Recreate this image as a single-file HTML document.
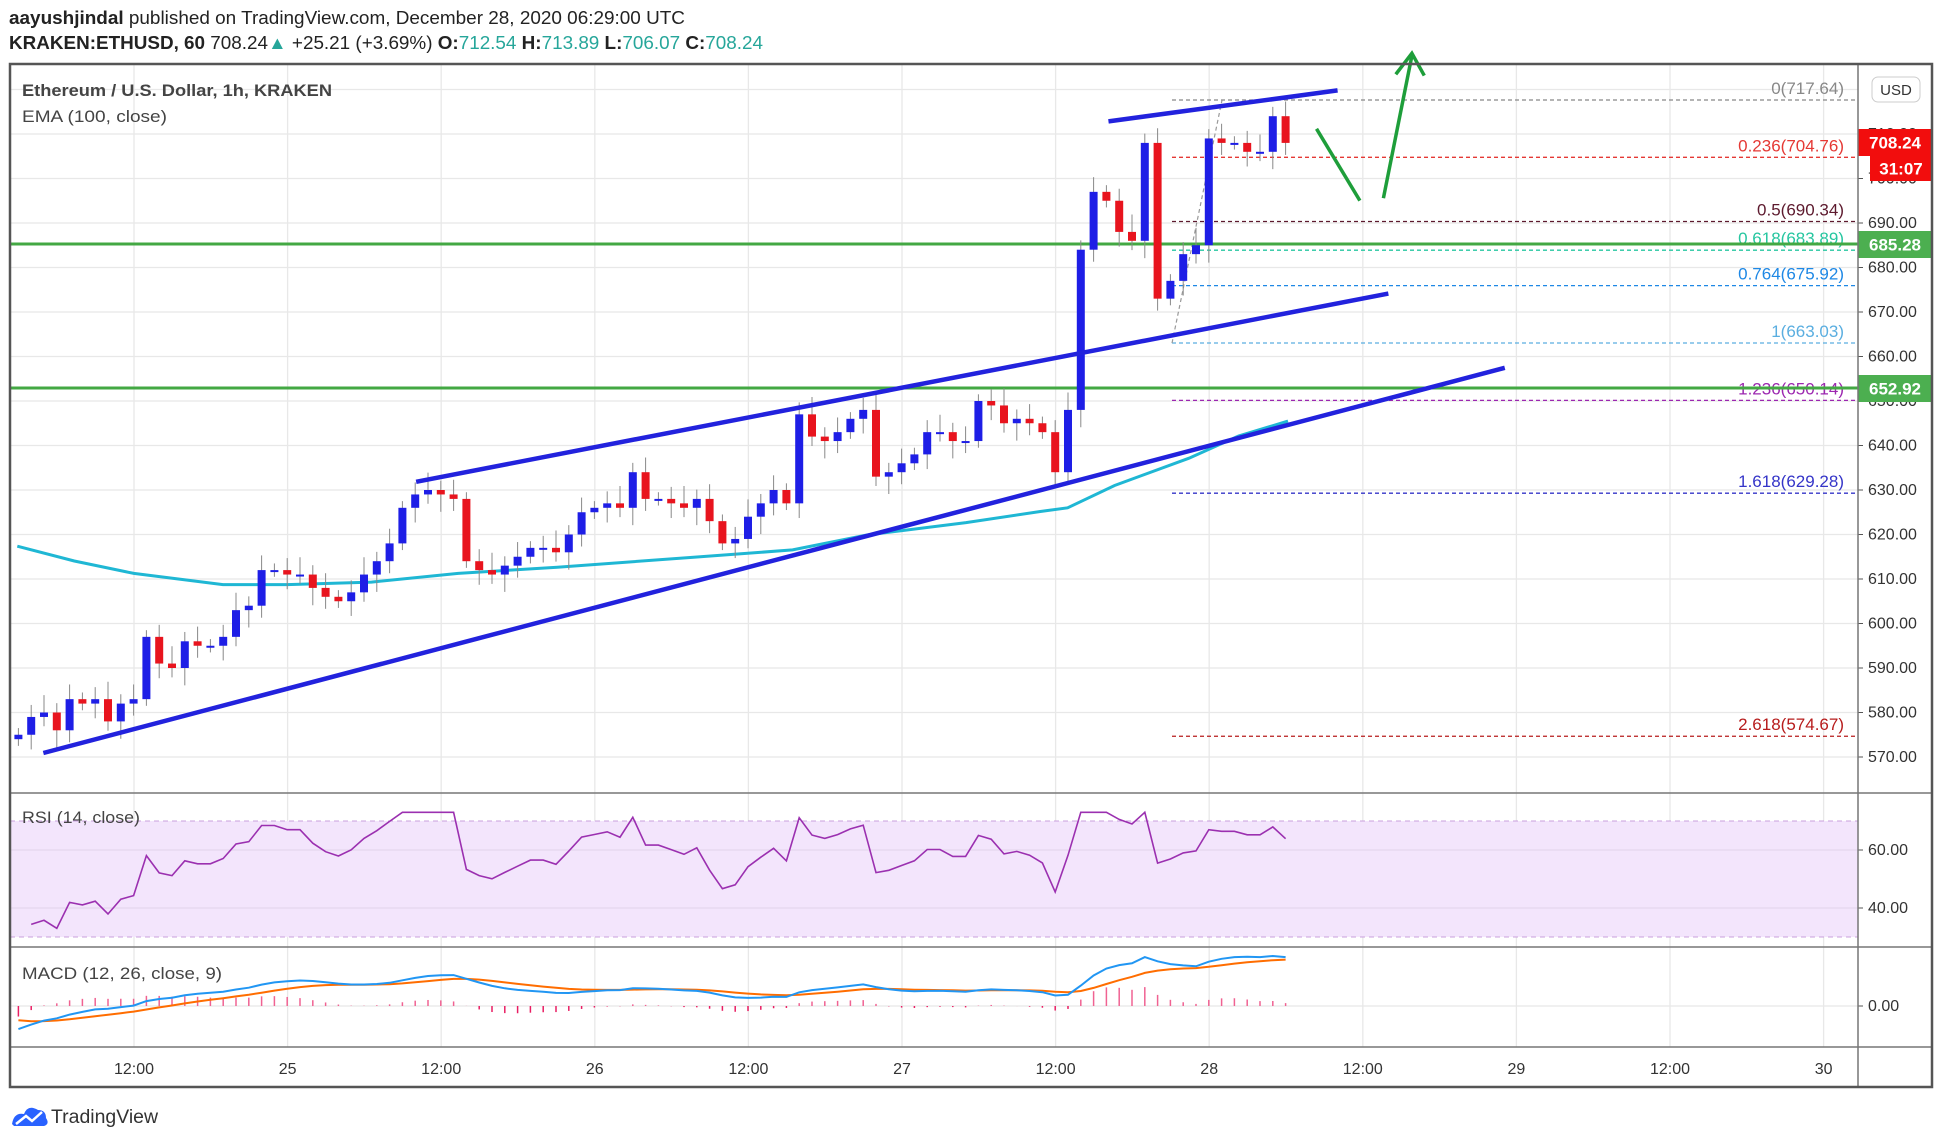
<!DOCTYPE html>
<html><head><meta charset="utf-8">
<style>
html,body{margin:0;padding:0;background:#fff;}
svg{display:block;font-family:"Liberation Sans Narrow","Liberation Sans",sans-serif;}
</style></head>
<body>
<svg id="s" width="1942" height="1143" viewBox="0 0 1942 1143" xmlns="http://www.w3.org/2000/svg">
<rect width="1942" height="1143" fill="#fff"/>
<g id="grid"></g>
<g id="content"></g>
<text x="9" y="24" font-size="18" fill="#222" textLength="676" lengthAdjust="spacingAndGlyphs"><tspan font-weight="bold">aayushjindal</tspan> published on TradingView.com, December 28, 2020 06:29:00 UTC</text>
<text x="9" y="49" font-size="18" fill="#222" textLength="754" lengthAdjust="spacingAndGlyphs"><tspan font-weight="bold">KRAKEN:ETHUSD, 60</tspan> 708.24<tspan fill="#26a69a">▲</tspan> +25.21 (+3.69%) <tspan font-weight="bold">O:</tspan><tspan fill="#26a69a">712.54</tspan> <tspan font-weight="bold">H:</tspan><tspan fill="#26a69a">713.89</tspan> <tspan font-weight="bold">L:</tspan><tspan fill="#26a69a">706.07</tspan> <tspan font-weight="bold">C:</tspan><tspan fill="#26a69a">708.24</tspan></text>
<text x="22" y="96" font-size="17" font-weight="bold" fill="#444" textLength="310" lengthAdjust="spacingAndGlyphs">Ethereum / U.S. Dollar, 1h, KRAKEN</text>
<text x="22" y="122" font-size="17" fill="#444" textLength="145" lengthAdjust="spacingAndGlyphs">EMA (100, close)</text>
<text x="22" y="823" font-size="17" fill="#444" textLength="118" lengthAdjust="spacingAndGlyphs">RSI (14, close)</text>
<text x="22" y="979" font-size="17" fill="#444" textLength="200" lengthAdjust="spacingAndGlyphs">MACD (12, 26, close, 9)</text>
<g transform="translate(12,1104)">
<path d="M0 20 Q2 8 12 10 Q16 0 26 6 Q34 6 34 14 Q38 20 32 22 L2 22 Z" fill="#2962ff"/>
<path d="M4 20 L14 12 L20 17 L30 8" stroke="#fff" stroke-width="2.5" fill="none"/>
</g>
<text x="51" y="1123" font-size="19" fill="#333" textLength="107" lengthAdjust="spacingAndGlyphs">TradingView</text>
</svg>
<script>
const NS="http://www.w3.org/2000/svg";
const C=document.getElementById('content'),G=document.getElementById('grid');
function el(p,tag,a,txt){const e=document.createElementNS(NS,tag);for(const k in a)e.setAttribute(k,a[k]);if(txt!==undefined)e.textContent=txt;p.appendChild(e);return e;}
const L=10,R=1858,RR=1932,T=64,B1=793,B2=947,B3=1047,B4=1087;
const X=t=>-20+12.8*t, Y=p=>223+(690-p)*4.45;
for(let i=0;i<=12;i++){const x=134+153.6*i;if(x<R)el(G,'line',{x1:x,y1:T,x2:x,y2:B3,stroke:'#e8e8e8','stroke-width':1.3});}
for(let p=570;p<=720;p+=10){el(G,'line',{x1:L,y1:Y(p),x2:R,y2:Y(p),stroke:'#e8e8e8','stroke-width':1.3});}
const RY=r=>850+(60-r)*2.9;
el(G,'rect',{x:L,y:RY(70),width:R-L,height:RY(30)-RY(70),fill:'#f3e5fc'});
[70,30].forEach(r=>el(G,'line',{x1:L,y1:RY(r),x2:R,y2:RY(r),stroke:'#c9a0dc','stroke-dasharray':'5 4','stroke-width':1}));
[60,40].forEach(r=>el(G,'line',{x1:L,y1:RY(r),x2:R,y2:RY(r),stroke:'#e2d4ea','stroke-width':1}));
el(G,'line',{x1:L,y1:1006,x2:R,y2:1006,stroke:'#e8e8e8','stroke-width':1.3});
const cl=[575,579,580,576,583,582,583,578,582,583,597,591,590,596,595,595,597,603,604,612,612,611,611,608,606,605,607,611,614,618,626,629,630,629,628,614,612,611,613,615,617,617,616,620,625,626,627,626,634,628,628,627,626,628,623,618,619,624,627,630,627,647,642,641,643,646,648,633,634,636,638,643,643,641,641,650,649,645,646,645,643,634,648,684,697,695,688,686,708,673,677,683,685,709,708,708,706,706,714,708];
const fibs=[[717.64,'0(717.64)','#888'],[704.76,'0.236(704.76)','#e53935'],[690.34,'0.5(690.34)','#5d1a2e'],[683.89,'0.618(683.89)','#26c6a0'],[675.92,'0.764(675.92)','#1e88e5'],[663.03,'1(663.03)','#5aaee0'],[650.14,'1.236(650.14)','#9c27b0'],[629.28,'1.618(629.28)','#3535c8'],[574.67,'2.618(574.67)','#b71c1c']];
fibs.forEach(f=>{const y=Y(f[0]);el(C,'line',{x1:1172,y1:y,x2:R,y2:y,stroke:f[2],'stroke-dasharray':'4 3','stroke-width':1.3});
el(C,'text',{x:1844,y:y-6,'font-size':17,fill:f[2],'text-anchor':'end'},f[1]);});
el(C,'line',{x1:1172,y1:Y(663),x2:1222,y2:Y(717.6),stroke:'#999','stroke-dasharray':'4 3','stroke-width':1.2});
const ema=[[14,441],[60,453],[108,463],[180,472],[232,472],[300,470],[370,463],[450,458],[560,450],[640,444],[700,432],[780,422],[840,413],[862,410],[900,392],[960,370],[1000,352],[1040,340]].map(p=>(p[0]*1.2385).toFixed(1)+','+(p[1]*1.2385).toFixed(1)).join(' ');
el(C,'polyline',{points:ema,fill:'none',stroke:'#1fb7d4','stroke-width':3});
[685.28,652.92].forEach(p=>el(C,'line',{x1:L,y1:Y(p),x2:R,y2:Y(p),stroke:'#43a843','stroke-width':3}));
let prev=574;
cl.forEach((c,i)=>{const t=i+3,o=prev;prev=c;const x=X(t);const up=c>=o;const col=up?'#1e1ee6':'#e8141e';
const hi=Math.max(o,c)+1.5+((i*7)%5)*0.6,lo=Math.min(o,c)-1.5-((i*3)%5)*0.6;
el(C,'line',{x1:x,y1:Y(hi),x2:x,y2:Y(lo),stroke:'#888','stroke-width':1});
const yt=Y(Math.max(o,c)),yb=Y(Math.min(o,c));el(C,'rect',{x:x-4,y:yt,width:8,height:Math.max(2,yb-yt),fill:col});});
const s=1.2385;
[[35,608,1215,297],[336,389,1121,237],[895,98,1080,73]].forEach(l=>el(C,'line',{x1:l[0]*s,y1:l[1]*s,x2:l[2]*s,y2:l[3]*s,stroke:'#2222dd','stroke-width':4.5}));
el(C,'line',{x1:1063*s,y1:104*s,x2:1098*s,y2:162*s,stroke:'#1e9e3a','stroke-width':3.5});
el(C,'line',{x1:1117*s,y1:160*s,x2:1140*s,y2:45*s,stroke:'#1e9e3a','stroke-width':3.5});
el(C,'polyline',{points:`${1127*s},${60*s} ${1140*s},${43*s} ${1150*s},${61*s}`,fill:'none',stroke:'#1e9e3a','stroke-width':3.5});
let g=0,ls=0,rs=[];for(let i=1;i<cl.length;i++){const d=cl[i]-cl[i-1];const up=Math.max(d,0),dn=Math.max(-d,0);
if(i===1){g=1;ls=2.5;}g=(g*13+up)/14;ls=(ls*13+dn)/14;rs.push(100-100/(1+g/ls));}
el(C,'polyline',{points:rs.map((r,i)=>X(i+4).toFixed(1)+','+RY(Math.max(33,Math.min(73,r))).toFixed(1)).join(' '),fill:'none',stroke:'#9b30b0','stroke-width':1.6});
let e12=cl[0]-9,e26=cl[0],sig=-4;const m=[],sg=[];cl.forEach(c=>{e12+=(c-e12)*2/13;e26+=(c-e26)*2/27;const v=e12-e26;sig+=(v-sig)*2/10;m.push(v);sg.push(sig);});
const mx=Math.max(...m.map(Math.abs));const MY=v=>1006-v*50/mx;
m.forEach((v,i)=>{const h=v-sg[i];el(C,'line',{x1:X(i+3),y1:1006,x2:X(i+3),y2:1006-h*60/mx,stroke:h>0?'#f06292':'#e91e63','stroke-width':1.5});});
el(C,'polyline',{points:sg.map((v,i)=>X(i+3).toFixed(1)+','+MY(v).toFixed(1)).join(' '),fill:'none',stroke:'#ff6d00','stroke-width':2});
el(C,'polyline',{points:m.map((v,i)=>X(i+3).toFixed(1)+','+MY(v).toFixed(1)).join(' '),fill:'none',stroke:'#2196f3','stroke-width':2});
const ax=(y,t)=>{el(C,'line',{x1:R,y1:y,x2:R+5,y2:y,stroke:'#555'});el(C,'text',{x:1868,y:y+5,'font-size':16,fill:'#333'},t);};
for(let p=570;p<=710;p+=10)ax(Y(p),p.toFixed(2));
ax(RY(60),'60.00');ax(RY(40),'40.00');ax(1006,'0.00');
const badge=(x,y,w,h,fill,t)=>{el(C,'rect',{x:x,y:y,width:w,height:h,fill:fill});el(C,'text',{x:x+w/2,y:y+h/2+6,'font-size':17,'font-weight':'bold',fill:'#fff','text-anchor':'middle'},t);};
badge(1858,129,74,27,'#f20d0d','708.24');badge(1870,156,62,25,'#f20d0d','31:07');
badge(1858,Y(685.28)-13,74,27,'#4caf50','685.28');badge(1858,Y(652.92)-13,74,27,'#4caf50','652.92');
el(C,'rect',{x:1872,y:77,width:48,height:25,rx:6,fill:'#fff',stroke:'#ccc'});el(C,'text',{x:1896,y:95,'font-size':15,fill:'#333','text-anchor':'middle'},'USD');
['12:00','25','12:00','26','12:00','27','12:00','28','12:00','29','12:00','30'].forEach((t,i)=>{const x=134+153.6*i;el(C,'text',{x:x,y:1074,'font-size':16,fill:'#333','text-anchor':'middle'},t);});
el(C,'line',{x1:L,y1:B1,x2:RR,y2:B1,stroke:'#777','stroke-width':1.5});
el(C,'line',{x1:L,y1:B2,x2:RR,y2:B2,stroke:'#777','stroke-width':1.5});
el(C,'line',{x1:L,y1:B3,x2:RR,y2:B3,stroke:'#777','stroke-width':1.5});
el(C,'line',{x1:R,y1:T,x2:R,y2:B4,stroke:'#777','stroke-width':1.5});
el(C,'rect',{x:L,y:T,width:RR-L,height:B4-T,fill:'none',stroke:'#555','stroke-width':2.5});
</script>
</body></html>
